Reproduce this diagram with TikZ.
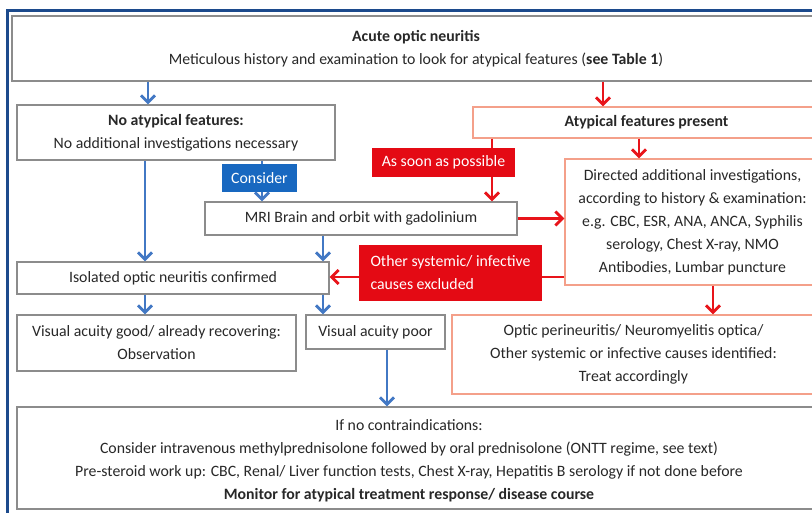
\documentclass[tikz,border=0pt]{standalone}
\usepackage{fontspec}
\setmainfont{Carlito}
\usetikzlibrary{arrows.meta,shadows}
\definecolor{frameblue}{RGB}{28,74,140}
\definecolor{arrblue}{RGB}{66,120,196}
\definecolor{consblue}{RGB}{24,104,192}
\definecolor{redfill}{RGB}{228,10,20}
\definecolor{arrred}{RGB}{232,20,26}
\definecolor{salmon}{RGB}{244,160,138}
\definecolor{boxgray}{RGB}{140,140,140}
\definecolor{txt}{RGB}{40,40,40}
\begin{document}
\begin{tikzpicture}[x=1pt,y=-1pt,
 every node/.style={font=\fontsize{15.8}{23}\selectfont, text=txt},
 graybox/.style={draw=boxgray, line width=1.3pt, fill=white, inner sep=0pt, align=center,
   drop shadow={shadow xshift=1.2pt,shadow yshift=-1.2pt,opacity=0.35,fill=black}},
 redbox/.style={draw=salmon, line width=1.3pt, fill=white, inner sep=0pt, align=center},
 redlabel/.style={fill=redfill, text=white, inner sep=0pt},
 bluelabel/.style={fill=consblue, text=white, inner sep=0pt},
 barrow/.style={draw=arrblue, line width=2.8pt, -{Straight Barb[length=7pt,width=14pt]}},
 rarrow/.style={draw=arrred, line width=2.8pt, -{Straight Barb[length=7pt,width=14pt]}},
 bline/.style={draw=arrblue, line width=2.8pt},
 rline/.style={draw=arrred, line width=2.8pt},
]
\useasboundingbox (0,0) rectangle (812,512);
\clip (0,0) rectangle (812,512);
\fill[white] (0,0) rectangle (812,512);
\draw[frameblue, line width=3.5pt] (7.5,530) -- (7.5,10.5) -- (830,10.5);

\node[graybox, minimum width=808pt, minimum height=65pt] (top) at (416,48.5)
  {\textbf{Acute optic neuritis}\\Meticulous history and examination to look for atypical features (\textbf{see Table 1})};
\node[graybox, minimum width=318pt, minimum height=55pt] (noatyp) at (176,132.5)
  {\textbf{No atypical features:}\\No additional investigations necessary};
\node[redbox, minimum width=347pt, minimum height=31pt] (atyp) at (646.5,122.5)
  {\textbf{Atypical features present}};
\node[redlabel, minimum width=143pt, minimum height=29pt] (soon) at (443.5,162.5) {As soon as possible};
\node[bluelabel, minimum width=75pt, minimum height=28pt] (consider) at (259.5,178) {Consider};
\node[graybox, minimum width=312pt, minimum height=33pt] (mri) at (361,218.5)
  {MRI Brain and orbit with gadolinium};
\node[redbox, minimum width=255pt, minimum height=126pt] (directed) at (692.5,222)
  {Directed additional investigations,\\according to history \& examination:\\e.g. CBC, ESR, ANA, ANCA, Syphilis\\serology, Chest X-ray, NMO\\Antibodies, Lumbar puncture};
\node[redlabel, align=left, minimum width=183pt, minimum height=56pt] (other) at (450.5,273)
  {Other systemic/ infective\\causes excluded};
\node[graybox, minimum width=312pt, minimum height=32pt] (isolated) at (173,278)
  {Isolated optic neuritis confirmed};
\node[graybox, minimum width=279pt, minimum height=56pt] (good) at (156.5,343)
  {Visual acuity good/ already recovering:\\Observation};
\node[graybox, minimum width=139pt, minimum height=34pt] (poor) at (375.5,332)
  {Visual acuity poor};
\node[redbox, minimum width=363pt, minimum height=79pt] (optic) at (633.5,354.5)
  {Optic perineuritis/ Neuromyelitis optica/\\Other systemic or infective causes identified:\\Treat accordingly};
\node[graybox, minimum width=813pt, minimum height=102pt] (bottom) at (423.5,458) {};
\node[align=center] (btext) at (409,461)
  {If no contraindications:\\Consider intravenous methylprednisolone followed by oral prednisolone (ONTT regime, see text)\\Pre-steroid work up: CBC, Renal/ Liver function tests, Chest X-ray, Hepatitis B serology if not done before\\\textbf{Monitor for atypical treatment response/ disease course}};

\draw[barrow] (top.south -| 148,0) -- (noatyp.north -| 148,0);
\draw[rarrow] (top.south -| 603,0) -- (atyp.north -| 603,0);
\draw[barrow] (noatyp.south -| 145,0) -- (isolated.north -| 145,0);
\draw[bline] (noatyp.south -| 262,0) -- (consider.north -| 262,0);
\draw[barrow] (consider.south -| 262,0) -- (mri.north -| 262,0);
\draw[rline] (atyp.south -| 492,0) -- (soon.north -| 492,0);
\draw[rarrow] (soon.south -| 492,0) -- (mri.north -| 492,0);
\draw[rarrow] (atyp.south -| 639,0) -- (directed.north -| 639,0);
\draw[rarrow] (mri.east) -- (directed.west |- mri.east);
\draw[rline] (directed.west |- 0,277) -- (other.east |- 0,277);
\draw[rarrow] (other.west |- 0,277) -- (isolated.east |- 0,277);
\draw[barrow] (mri.south -| 323,0) -- (isolated.north -| 323,0);
\draw[barrow] (isolated.south -| 145,0) -- (good.north -| 145,0);
\draw[barrow] (isolated.south -| 323,0) -- (poor.north -| 323,0);
\draw[barrow] (poor.south -| 387,0) -- (bottom.north -| 387,0);
\draw[rarrow] (directed.south -| 713,0) -- (optic.north -| 713,0);
\end{tikzpicture}
\end{document}
